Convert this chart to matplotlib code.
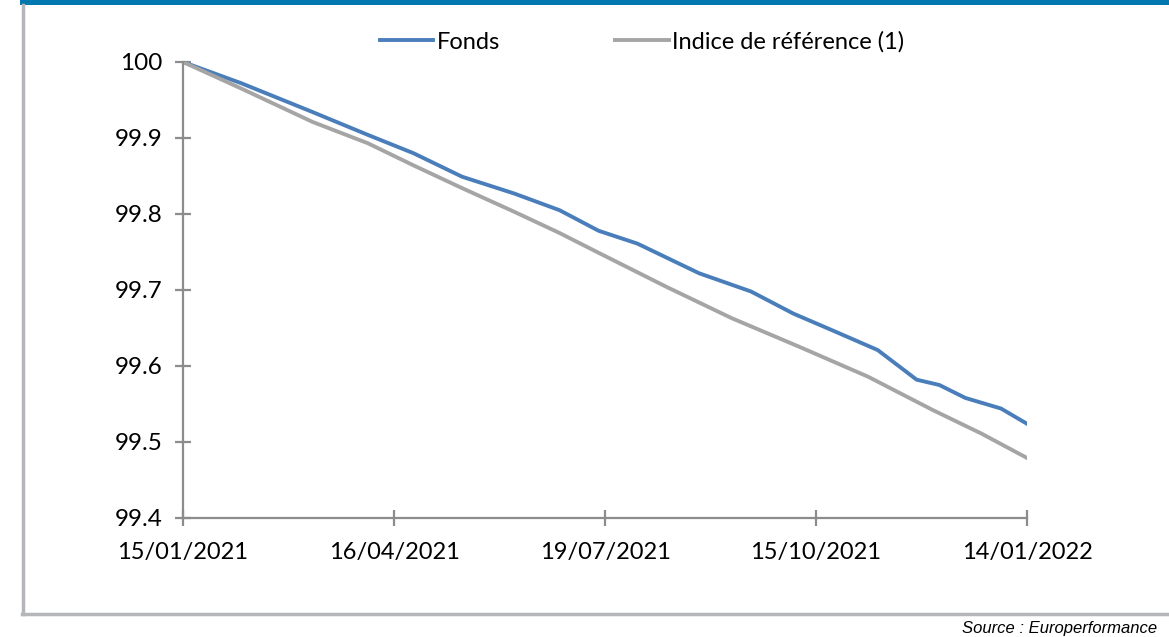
import numpy as np
import matplotlib
matplotlib.use('Agg')
import matplotlib.pyplot as plt
from matplotlib.lines import Line2D
from matplotlib.patches import Rectangle

# business-day position, 0 = 15/01/2021 ... 260 = 14/01/2022
fonds_pos = [0, 18, 40, 57, 71, 86, 102, 116, 128, 140, 159, 175, 188, 200, 214, 226, 233, 241, 252, 260]
fonds = [100.000, 99.972, 99.934, 99.904, 99.880, 99.849, 99.827, 99.805, 99.778, 99.761,
         99.722, 99.698, 99.669, 99.647, 99.621, 99.582, 99.575, 99.558, 99.544, 99.524]

indice_pos = [0, 18, 40, 57, 71, 86, 102, 116, 128, 149, 169, 190, 211, 231, 246, 260]
indice = [100.000, 99.965, 99.921, 99.893, 99.864, 99.834, 99.803, 99.775, 99.749,
          99.704, 99.663, 99.625, 99.586, 99.542, 99.511, 99.479]

tick_pos = [0, 65, 130, 195, 260]
tick_labels = ['15/01/2021', '16/04/2021', '19/07/2021', '15/10/2021', '14/01/2022']
y_ticks = [99.4, 99.5, 99.6, 99.7, 99.8, 99.9, 100]

plt.rcParams['font.family'] = ['Lato', 'DejaVu Sans']

fig = plt.figure(figsize=(11.69, 6.37), dpi=100)
ax = fig.add_axes([183/1169, 1 - 518/637, 844/1169, 456/637])

ax.plot(fonds_pos, fonds, color='#4a7ebb', lw=2.8, label='Fonds')
ax.plot(indice_pos, indice, color='#a5a5a5', lw=2.8, label='Indice de référence (1)')

ax.set_xlim(0, 260)
ax.set_ylim(99.4, 100)
ax.set_xticks(tick_pos)
ax.set_xticklabels(tick_labels)
ax.set_yticks(y_ticks)
ax.set_yticklabels(['99.4', '99.5', '99.6', '99.7', '99.8', '99.9', '100'])

for s in ['top', 'right']:
    ax.spines[s].set_visible(False)
for s in ['left', 'bottom']:
    ax.spines[s].set_color('#8c8c8c')
    ax.spines[s].set_linewidth(1.6)
ax.tick_params(axis='both', direction='inout', length=11, width=1.6, color='#8c8c8c',
               labelcolor='black')
ax.tick_params(axis='y', pad=9, labelsize=17.5)
ax.tick_params(axis='x', pad=12, labelsize=17)

fig.legend(loc='center', bbox_to_anchor=(642/1169, 1 - 42/637), ncol=2, frameon=False,
           fontsize=17, handlelength=2.25, handletextpad=0.13, columnspacing=4.9)

# frame of the page
fig.add_artist(Rectangle((20/1169, 1 - 5/637), 1, 5/637, transform=fig.transFigure,
                         color='#0077ae', lw=0))
fig.add_artist(Line2D([22.5/1169, 22.5/1169], [1 - 5/637, 1 - 614/637], transform=fig.transFigure,
                      color='#b4b6b9', lw=2.5))
fig.add_artist(Line2D([21.5/1169, 1], [1 - 614/637, 1 - 614/637], transform=fig.transFigure,
                      color='#b4b6b9', lw=2.5))

fig.text(962/1169, 1 - 629/637, 'Source : Europerformance', family='Liberation Sans',
         style='italic', fontsize=12, va='center', ha='left')

fig.savefig('out.png', dpi=100)
